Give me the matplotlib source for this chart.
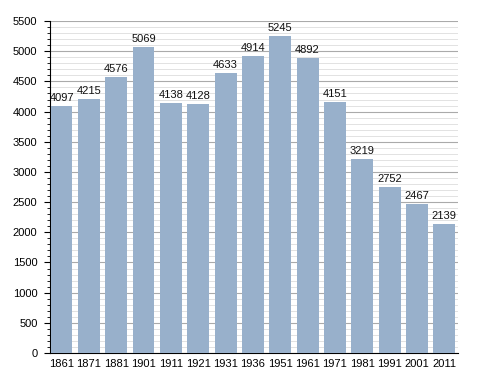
import matplotlib
matplotlib.use("Agg")
import matplotlib.pyplot as plt
from matplotlib.ticker import MultipleLocator

years = ["1861", "1871", "1881", "1901", "1911", "1921", "1931", "1936", "1951", "1961", "1971", "1981", "1991", "2001", "2011"]
population = [4097, 4215, 4576, 5069, 4138, 4128, 4633, 4914, 5245, 4892, 4151, 3219, 2752, 2467, 2139]

plt.rcParams['font.family'] = ['Liberation Sans', 'DejaVu Sans']
fig = plt.figure(figsize=(4.88, 3.73), dpi=100)
ax = fig.add_axes([0.1025, 0.0536, 0.836, 0.89])

x = list(range(len(years)))
ax.bar(x, population, width=0.8, color="#98b0cb", zorder=3)
for xi, v in zip(x, population):
    ax.text(xi, v + 50, str(v), ha="center", va="bottom", fontsize=8, color="#111111", zorder=4)

ax.set_xlim(-0.42, len(years) - 0.5)
ax.set_ylim(0, 5500)
ax.set_xticks(x)
ax.set_xticklabels(years, fontsize=8)
ax.yaxis.set_major_locator(MultipleLocator(500))
ax.yaxis.set_minor_locator(MultipleLocator(100))
ax.tick_params(axis="y", labelsize=8, length=4, width=0.8, direction="out", pad=5)
ax.tick_params(axis="y", which="minor", length=2, width=0.6)
ax.tick_params(axis="x", length=0, pad=4)
ax.grid(axis="y", which="major", color="#aaaaaa", linewidth=0.8, zorder=0)
ax.grid(axis="y", which="minor", color="#dddddd", linewidth=0.6, zorder=0)
for s in ["top", "right"]:
    ax.spines[s].set_visible(False)
ax.spines["left"].set_color("black")
ax.spines["bottom"].set_color("black")

fig.savefig("out.png", dpi=100)
